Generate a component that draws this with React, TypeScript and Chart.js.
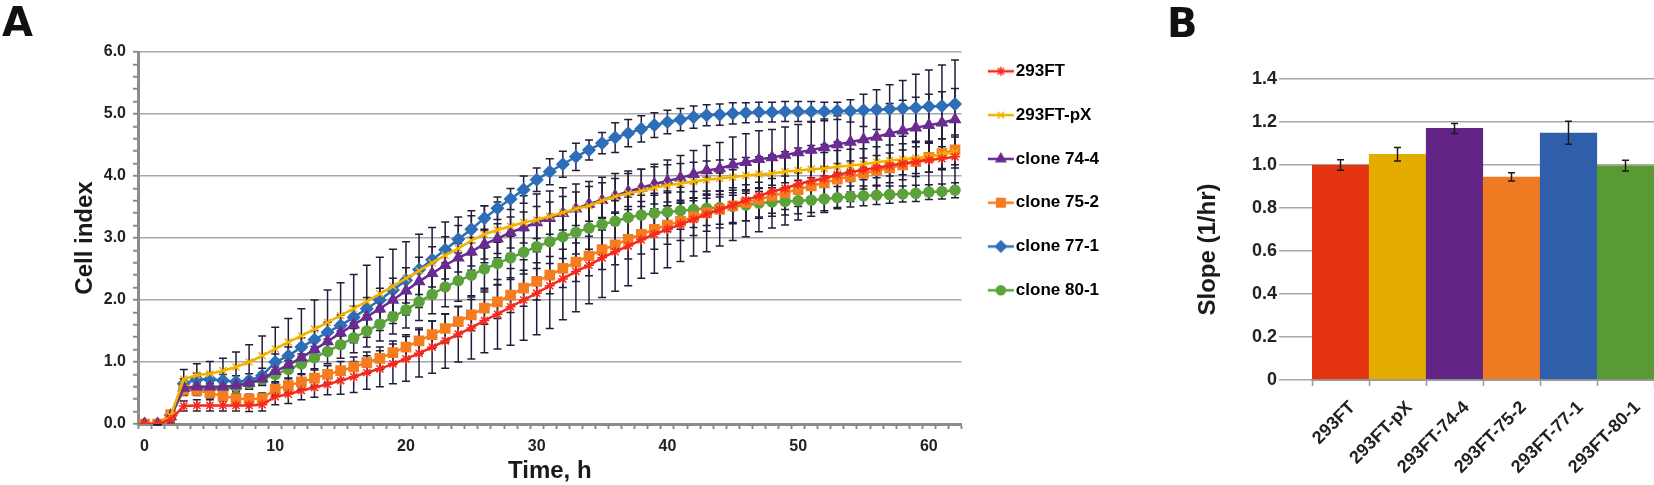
import { useEffect, useRef } from 'react';
import { Chart, registerables } from 'chart.js';
import { drawPoint } from 'chart.js/helpers';

Chart.register(...registerables);

const FONT = '"Liberation Sans", Arial, Helvetica, sans-serif';
Chart.defaults.font.family = FONT;

// ---- Panel A: cell index over time ----
const hours = [
  '0', '1', '2', '3', '4', '5', '6', '7', '8', '9', '10', '11', '12', '13', '14', '15',
  '16', '17', '18', '19', '20', '21', '22', '23', '24', '25', '26', '27', '28', '29', '30', '31',
  '32', '33', '34', '35', '36', '37', '38', '39', '40', '41', '42', '43', '44', '45', '46', '47',
  '48', '49', '50', '51', '52', '53', '54', '55', '56', '57', '58', '59', '60', '61', '62',
];
const timeTickLabels = ['0', '10', '20', '30', '40', '50', '60'];
const cellIndexTickLabels = ['0.0', '1.0', '2.0', '3.0', '4.0', '5.0', '6.0'];

const ci293FT = [
  0, 0, 0.07, 0.29, 0.3, 0.3, 0.3, 0.3, 0.3, 0.31, 0.44, 0.48, 0.54, 0.59, 0.64, 0.7,
  0.76, 0.83, 0.89, 0.97, 1.05, 1.14, 1.24, 1.34, 1.45, 1.55, 1.67, 1.77, 1.89, 2.0, 2.11, 2.23,
  2.34, 2.46, 2.56, 2.68, 2.78, 2.87, 2.97, 3.06, 3.14, 3.22, 3.3, 3.38, 3.46, 3.53, 3.61, 3.68,
  3.75, 3.8, 3.87, 3.92, 3.96, 4.02, 4.06, 4.1, 4.13, 4.17, 4.2, 4.23, 4.26, 4.28, 4.31,
];
const ci293FTpX = [
  0, 0, 0.13, 0.72, 0.79, 0.81, 0.86, 0.92, 1.0, 1.1, 1.21, 1.32, 1.42, 1.53, 1.64, 1.75,
  1.86, 1.98, 2.1, 2.22, 2.35, 2.47, 2.6, 2.72, 2.83, 2.96, 3.06, 3.13, 3.19, 3.25, 3.29, 3.35,
  3.41, 3.47, 3.52, 3.6, 3.67, 3.72, 3.76, 3.81, 3.85, 3.88, 3.91, 3.94, 3.96, 3.98, 4.01, 4.03,
  4.04, 4.07, 4.09, 4.11, 4.12, 4.15, 4.17, 4.19, 4.22, 4.25, 4.27, 4.29, 4.31, 4.35, 4.38,
];
const ciClone744 = [
  0, 0, 0.12, 0.58, 0.6, 0.6, 0.6, 0.62, 0.66, 0.73, 0.85, 0.95, 1.07, 1.2, 1.33, 1.47,
  1.6, 1.73, 1.86, 2.0, 2.15, 2.3, 2.43, 2.56, 2.68, 2.78, 2.9, 2.99, 3.09, 3.17, 3.25, 3.32,
  3.4, 3.47, 3.55, 3.61, 3.68, 3.75, 3.81, 3.87, 3.92, 3.97, 4.03, 4.09, 4.12, 4.18, 4.22, 4.27,
  4.3, 4.34, 4.38, 4.42, 4.46, 4.51, 4.55, 4.59, 4.63, 4.69, 4.73, 4.78, 4.82, 4.86, 4.91,
];
const ciClone752 = [
  0, 0, 0.15, 0.55, 0.54, 0.5, 0.45, 0.41, 0.4, 0.41, 0.56, 0.62, 0.68, 0.74, 0.8, 0.86,
  0.92, 0.99, 1.06, 1.15, 1.24, 1.34, 1.44, 1.54, 1.65, 1.76, 1.87, 1.97, 2.08, 2.19, 2.3, 2.4,
  2.51, 2.61, 2.71, 2.81, 2.89, 2.98, 3.06, 3.14, 3.21, 3.27, 3.34, 3.41, 3.46, 3.52, 3.57, 3.62,
  3.68, 3.73, 3.78, 3.84, 3.89, 3.95, 3.99, 4.04, 4.09, 4.13, 4.18, 4.23, 4.3, 4.36, 4.42,
];
const ciClone771 = [
  0, 0, 0.14, 0.65, 0.72, 0.72, 0.7, 0.68, 0.7, 0.78, 1.0, 1.1, 1.24, 1.36, 1.48, 1.59,
  1.72, 1.86, 2.0, 2.16, 2.32, 2.49, 2.65, 2.81, 2.98, 3.14, 3.32, 3.48, 3.63, 3.78, 3.94, 4.07,
  4.19, 4.31, 4.42, 4.53, 4.62, 4.69, 4.76, 4.82, 4.87, 4.91, 4.95, 4.98, 4.99, 5.01, 5.02, 5.03,
  5.03, 5.04, 5.04, 5.04, 5.04, 5.05, 5.05, 5.06, 5.07, 5.08, 5.09, 5.1, 5.12, 5.13, 5.16,
];
const ciClone801 = [
  0, 0, 0.12, 0.55, 0.58, 0.57, 0.57, 0.6, 0.65, 0.72, 0.8, 0.88, 0.97, 1.07, 1.17, 1.28,
  1.39, 1.5, 1.61, 1.73, 1.84, 1.97, 2.09, 2.21, 2.31, 2.4, 2.5, 2.59, 2.68, 2.77, 2.86, 2.94,
  3.02, 3.09, 3.16, 3.22, 3.27, 3.33, 3.37, 3.4, 3.42, 3.44, 3.46, 3.48, 3.49, 3.51, 3.53, 3.56,
  3.58, 3.59, 3.6, 3.61, 3.63, 3.65, 3.67, 3.68, 3.69, 3.7, 3.71, 3.72, 3.74, 3.75, 3.77,
];

// standard deviations (error bars)
const sd293FT = [
  0, 0.01, 0.05, 0.08, 0.09, 0.09, 0.09, 0.09, 0.1, 0.1, 0.13, 0.15, 0.15, 0.16, 0.17, 0.22,
  0.25, 0.27, 0.29, 0.32, 0.36, 0.38, 0.42, 0.44, 0.45, 0.5, 0.52, 0.56, 0.62, 0.65, 0.67, 0.69,
  0.66, 0.65, 0.62, 0.64, 0.64, 0.64, 0.62, 0.63, 0.62, 0.6, 0.59, 0.6, 0.59, 0.57, 0.59, 0.58,
  0.59, 0.59, 0.58, 0.57, 0.55, 0.53, 0.47, 0.46, 0.48, 0.5, 0.53, 0.55, 0.56, 0.56, 0.57,
];
const sd293FTpX = [
  0, 0.01, 0.08, 0.16, 0.18, 0.2, 0.2, 0.24, 0.28, 0.32, 0.35, 0.38, 0.44, 0.47, 0.52, 0.53,
  0.55, 0.58, 0.59, 0.6, 0.59, 0.59, 0.57, 0.54, 0.51, 0.48, 0.46, 0.45, 0.44, 0.43, 0.42, 0.41,
  0.4, 0.4, 0.39, 0.38, 0.37, 0.36, 0.35, 0.34, 0.33, 0.32, 0.31, 0.3, 0.3, 0.29, 0.29, 0.28,
  0.28, 0.27, 0.27, 0.27, 0.26, 0.26, 0.26, 0.25, 0.25, 0.25, 0.25, 0.25, 0.25, 0.25, 0.25,
];
const sdClone744 = [
  0, 0.01, 0.05, 0.07, 0.08, 0.08, 0.08, 0.09, 0.09, 0.1, 0.11, 0.12, 0.13, 0.14, 0.15, 0.16,
  0.17, 0.18, 0.19, 0.2, 0.2, 0.21, 0.22, 0.22, 0.23, 0.23, 0.24, 0.24, 0.25, 0.25, 0.26, 0.26,
  0.27, 0.27, 0.28, 0.28, 0.28, 0.29, 0.3, 0.32, 0.34, 0.36, 0.38, 0.4, 0.42, 0.45, 0.46, 0.46,
  0.45, 0.45, 0.45, 0.45, 0.46, 0.46, 0.47, 0.47, 0.48, 0.48, 0.49, 0.49, 0.5, 0.5, 0.5,
];
const sdClone752 = [
  0, 0.01, 0.06, 0.09, 0.08, 0.08, 0.08, 0.08, 0.08, 0.09, 0.1, 0.11, 0.12, 0.13, 0.14, 0.15,
  0.16, 0.17, 0.18, 0.19, 0.2, 0.21, 0.22, 0.23, 0.24, 0.25, 0.26, 0.27, 0.28, 0.29, 0.3, 0.3,
  0.31, 0.31, 0.32, 0.32, 0.32, 0.32, 0.32, 0.32, 0.31, 0.31, 0.3, 0.3, 0.3, 0.29, 0.29, 0.28,
  0.28, 0.27, 0.27, 0.26, 0.26, 0.25, 0.25, 0.25, 0.24, 0.24, 0.24, 0.24, 0.24, 0.24, 0.24,
];
const sdClone771 = [
  0, 0.01, 0.06, 0.08, 0.1, 0.1, 0.1, 0.1, 0.11, 0.12, 0.13, 0.14, 0.15, 0.15, 0.16, 0.17,
  0.18, 0.18, 0.19, 0.19, 0.2, 0.2, 0.21, 0.21, 0.22, 0.22, 0.2, 0.18, 0.17, 0.22, 0.19, 0.21,
  0.21, 0.22, 0.16, 0.17, 0.24, 0.22, 0.21, 0.2, 0.19, 0.18, 0.18, 0.17, 0.17, 0.17, 0.16, 0.16,
  0.16, 0.16, 0.16, 0.16, 0.15, 0.14, 0.18, 0.26, 0.32, 0.39, 0.45, 0.54, 0.59, 0.66, 0.71,
];
const sdClone801 = [
  0, 0.01, 0.05, 0.07, 0.08, 0.08, 0.08, 0.08, 0.09, 0.1, 0.12, 0.14, 0.16, 0.18, 0.2, 0.22,
  0.24, 0.26, 0.27, 0.28, 0.29, 0.3, 0.31, 0.32, 0.33, 0.33, 0.34, 0.34, 0.35, 0.35, 0.35, 0.35,
  0.35, 0.35, 0.34, 0.34, 0.33, 0.33, 0.32, 0.32, 0.31, 0.3, 0.29, 0.28, 0.27, 0.26, 0.25, 0.24,
  0.23, 0.22, 0.21, 0.2, 0.19, 0.18, 0.17, 0.16, 0.15, 0.14, 0.13, 0.13, 0.12, 0.12, 0.12,
];

const seriesNames = ['293FT', '293FT-pX', 'clone 74-4', 'clone 75-2', 'clone 77-1', 'clone 80-1'];
const seriesValues = [ci293FT, ci293FTpX, ciClone744, ciClone752, ciClone771, ciClone801];
const seriesErrors = [sd293FT, sd293FTpX, sdClone744, sdClone752, sdClone771, sdClone801];
const seriesColors = ['#f52a1e', '#f2b200', '#6a2c90', '#f57d1f', '#2e6db8', '#5ca23a'];
const seriesMarkers = ['star', 'crossRot', 'triangle', 'rect', 'rectRot', 'circle'];
const seriesMarkerSize = [5, 5, 6, 6.5, 6, 5];

// ---- Panel B: growth slope ----
const slopeGroups = ['293FT', '293FT-pX', '293FT-74-4', '293FT-75-2', '293FT-77-1', '293FT-80-1'];
const slopes = [1.0, 1.05, 1.17, 0.945, 1.15, 0.997];
const slopeErrors = [0.024, 0.031, 0.023, 0.019, 0.054, 0.025];
const slopeColors = ['#e3330f', '#e5ac00', '#632585', '#ef7a22', '#2f5fab', '#5a9a35'];

// draws symmetric error bars from dataset.errors
function drawErrorBars(chart: any, opts: any) {
  const { ctx } = chart;
  ctx.save();
  ctx.strokeStyle = opts.color;
  ctx.lineWidth = opts.width;
  chart.data.datasets.forEach((ds: any, i: number) => {
    if (!ds.errors) return;
    const meta = chart.getDatasetMeta(i);
    const yScale = chart.scales[meta.yAxisID];
    meta.data.forEach((el: any, j: number) => {
      const v = ds.data[j];
      const e = ds.errors[j];
      if (v == null || !e) return;
      const x = el.x;
      const top = yScale.getPixelForValue(v + e);
      const bot = yScale.getPixelForValue(v - e);
      ctx.beginPath();
      ctx.moveTo(x, top);
      ctx.lineTo(x, bot);
      ctx.moveTo(x - opts.cap, top);
      ctx.lineTo(x + opts.cap, top);
      ctx.moveTo(x - opts.cap, bot);
      ctx.lineTo(x + opts.cap, bot);
      ctx.stroke();
    });
  });
  ctx.restore();
}

const errorBars = {
  id: 'errorBars',
  beforeDatasetsDraw(chart: any, _args: any, opts: any) {
    if (!opts.above) drawErrorBars(chart, opts);
  },
  afterDatasetsDraw(chart: any, _args: any, opts: any) {
    if (opts.above) drawErrorBars(chart, opts);
  },
};

// Excel-like legend sample: a short line with the marker on it
function legendIcon(color: string, style: string, radius: number) {
  const c = document.createElement('canvas');
  c.width = 34;
  c.height = 18;
  const ctx = c.getContext('2d')!;
  ctx.strokeStyle = color;
  ctx.fillStyle = color;
  ctx.lineWidth = 2.5;
  ctx.beginPath();
  ctx.moveTo(7, 9);
  ctx.lineTo(33, 9);
  ctx.stroke();
  ctx.lineWidth = 1.5;
  drawPoint(ctx, { pointStyle: style as any, rotation: 0, radius, borderWidth: 1.5 }, 20, 9);
  return c;
}

const isWhole = (v: number) => Math.abs(v - Math.round(v)) < 1e-6;

export default function App() {
  const refA = useRef<HTMLCanvasElement>(null);
  const refB = useRef<HTMLCanvasElement>(null);

  useEffect(() => {
    if (!refA.current || !refB.current) return;

    const icons = seriesNames.map((_, i) =>
      legendIcon(seriesColors[i], seriesMarkers[i], seriesMarkerSize[i] - 0.5)
    );

    const chartA = new Chart(refA.current, {
      type: 'line',
      data: {
        labels: hours,
        datasets: seriesNames.map((name, i) => ({
          label: name,
          data: seriesValues[i],
          errors: seriesErrors[i],
          xAxisID: 'x',
          yAxisID: 'y',
          borderColor: seriesColors[i],
          backgroundColor: seriesColors[i],
          borderWidth: 2.5,
          pointStyle: seriesMarkers[i],
          pointRadius: seriesMarkerSize[i],
          pointBackgroundColor: seriesColors[i],
          pointBorderColor: seriesColors[i],
          pointBorderWidth: 1.5,
          tension: 0,
        })) as any,
      },
      options: {
        animation: false,
        responsive: true,
        maintainAspectRatio: false,
        layout: { padding: { top: 36, right: 0, bottom: 0, left: 0 } },
        plugins: {
          legend: {
            position: 'right',
            align: 'start',
            labels: {
              usePointStyle: true,
              pointStyleWidth: 19,
              padding: 26.8,
              color: '#1a1a1a',
              font: { family: FONT, size: 17, weight: 'bold' },
              generateLabels: (chart: any) =>
                chart.data.datasets.map((ds: any, i: number) => ({
                  text: ds.label,
                  fillStyle: ds.borderColor,
                  strokeStyle: ds.borderColor,
                  lineWidth: 0,
                  pointStyle: icons[i],
                  hidden: false,
                  datasetIndex: i,
                })),
            },
          },
          tooltip: { enabled: false },
          errorBars: { above: false, color: '#221d3a', width: 1.5, cap: 4 },
        } as any,
        scales: {
          x: {
            type: 'category',
            offset: true,
            grid: {
              offset: true,
              drawOnChartArea: false,
              tickLength: 5,
              tickColor: '#8c8c8c',
              tickWidth: 2,
            },
            border: { color: '#8c8c8c', width: 3 },
            ticks: {
              autoSkip: false,
              maxRotation: 0,
              padding: 8,
              color: '#222',
              font: { size: 16, weight: 'bold' },
              callback: (_v: any, i: number) => (timeTickLabels.includes(hours[i]) ? hours[i] : ''),
            },
            title: {
              display: true,
              text: 'Time, h',
              color: '#1a1a1a',
              font: { size: 24, weight: 'bold', lineHeight: 1.1 },
              padding: { top: 0, bottom: 0 },
            },
            afterFit: (s: any) => {
              s.height = 61;
            },
          },
          top: {
            type: 'linear',
            position: 'top',
            min: 0,
            max: 1,
            grid: { display: false },
            border: { display: false },
            ticks: { display: false },
            afterFit: (s: any) => {
              s.height = 16;
            },
          },
          y: {
            min: 0,
            max: 6,
            grid: {
              color: (c: any) => (c.tick && isWhole(c.tick.value) ? '#a8a8a8' : 'rgba(0,0,0,0)'),
              lineWidth: 1.5,
              tickLength: 5,
              tickColor: '#8c8c8c',
              tickWidth: 2,
            },
            border: { color: '#8c8c8c', width: 3 },
            ticks: {
              stepSize: 0.2,
              autoSkip: false,
              padding: 7,
              color: '#222',
              font: { size: 16, weight: 'bold' },
              callback: (v: any) => {
                const s = Number(v).toFixed(1);
                return isWhole(Number(v)) && cellIndexTickLabels.includes(s) ? s : '';
              },
            },
            title: {
              display: true,
              text: 'Cell index',
              color: '#1a1a1a',
              font: { size: 24, weight: 'bold' },
              padding: { top: 71, bottom: 0 },
            },
            afterFit: (s: any) => {
              s.width = 138;
            },
          },
        } as any,
      },
      plugins: [errorBars],
    });

    const chartB = new Chart(refB.current, {
      type: 'bar',
      data: {
        labels: slopeGroups,
        datasets: [
          {
            data: slopes,
            errors: slopeErrors,
            backgroundColor: slopeColors,
            borderColor: slopeColors,
            borderWidth: 1,
            categoryPercentage: 1,
            barPercentage: 1,
          } as any,
        ],
      },
      options: {
        animation: false,
        responsive: true,
        maintainAspectRatio: false,
        layout: { padding: { top: 79, right: 0, bottom: 0, left: 0 } },
        plugins: {
          legend: { display: false },
          tooltip: { enabled: false },
          errorBars: { above: true, color: '#1a1a1a', width: 1.5, cap: 3.5 },
        } as any,
        scales: {
          x: {
            grid: {
              offset: true,
              drawOnChartArea: false,
              tickLength: 6,
              tickColor: '#9a9a9a',
              tickWidth: 1.5,
            },
            border: { color: '#9a9a9a', width: 2 },
            ticks: {
              autoSkip: false,
              minRotation: 45,
              maxRotation: 45,
              padding: 11,
              labelOffset: 12,
              color: '#222',
              font: { size: 18, weight: 'bold' },
            },
            afterFit: (s: any) => {
              s.height = 105;
            },
          },
          y: {
            min: 0,
            max: 1.4,
            grid: {
              color: '#a8a8a8',
              lineWidth: 1.5,
              tickLength: 33,
              tickColor: '#a8a8a8',
            },
            border: { display: false },
            ticks: {
              stepSize: 0.2,
              autoSkip: false,
              padding: 2,
              color: '#222',
              font: { size: 18, weight: 'bold' },
              callback: (v: any) => (Number(v) === 0 ? '0' : Number(v).toFixed(1)),
            },
            title: {
              display: true,
              // trailing spaces nudge the centred title down, as in the figure
              text: 'Slope (1/hr)      ',
              color: '#1a1a1a',
              font: { size: 24, weight: 'bold' },
              padding: { top: 44, bottom: 0 },
            },
            afterFit: (s: any) => {
              s.width = 162;
            },
          },
        } as any,
      },
      plugins: [errorBars],
    });

    return () => {
      chartA.destroy();
      chartB.destroy();
    };
  }, []);

  const letter = {
    position: 'absolute' as const,
    font: 'bold 40px "DejaVu Sans", sans-serif',
    lineHeight: '40px',
    color: '#111',
  };

  return (
    <div style={{ position: 'absolute', left: 0, top: 0, width: 1654, height: 485, background: '#fff', overflow: 'hidden' }}>
      <div style={{ position: 'absolute', left: 0, top: 0, width: 1109, height: 485 }}>
        <canvas ref={refA}></canvas>
      </div>
      <div style={{ position: 'absolute', left: 1150, top: 0, width: 504, height: 485 }}>
        <canvas ref={refB}></canvas>
      </div>
      <div style={{ ...letter, left: 2, top: 2 }}>A</div>
      <div style={{ ...letter, left: 1167, top: 3 }}>B</div>
    </div>
  );
}
